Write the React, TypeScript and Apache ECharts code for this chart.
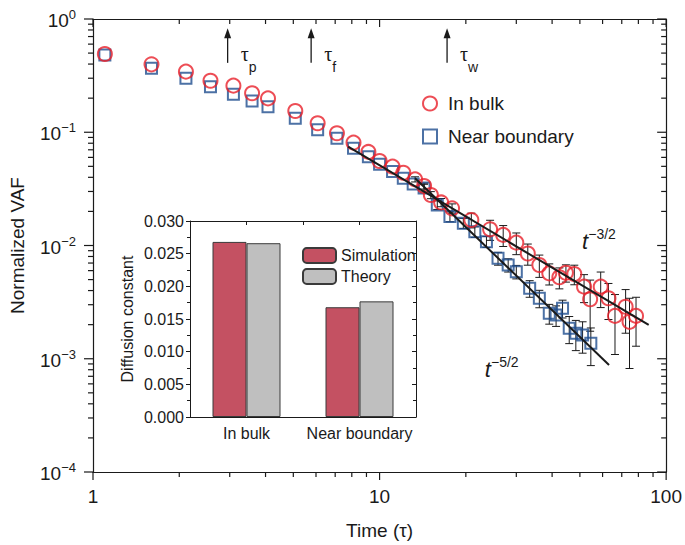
import React, { useEffect, useRef } from "react";
import * as echarts from "echarts";

// ---------- main plot data ----------
const bulkT = [1.1, 1.6, 2.11, 2.57, 3.09, 3.59, 4.08, 5.08, 6.08, 7.1, 8.11, 9.14, 10.0, 11.1, 12.1, 13.3, 14.3, 15.1, 16.4, 17.9, 20.9, 24.3, 27.0, 30.0, 32.9, 36.1, 39.1, 42.4, 44.7, 47.8, 51.7, 54.3, 59.1, 62.9, 66.3, 72.2, 74.5, 78.5];
const bulkV = [0.491, 0.398, 0.343, 0.285, 0.258, 0.221, 0.199, 0.154, 0.12, 0.098, 0.081, 0.067, 0.0557, 0.0497, 0.0439, 0.0384, 0.0335, 0.0279, 0.024, 0.0213, 0.0168, 0.0139, 0.0124, 0.0106, 0.0085, 0.00673, 0.00568, 0.00524, 0.00575, 0.0056, 0.00433, 0.00335, 0.00433, 0.00342, 0.00239, 0.00288, 0.00212, 0.00239];
const bulkErr = [0, 0, 0, 0, 0, 0, 0, 0, 0, 0, 0, 0, 0, 0, 0, 0.002, 0.002, 0.002, 0.002, 0.002, 0.0025, 0.0028, 0.0026, 0.0023, 0.0018, 0.0015, 0.0012, 0.0011, 0.001, 0.0011, 0.0012, 0.0016, 0.0015, 0.0012, 0.0013, 0.0012, 0.0013, 0.0011];

const edgeT = [1.1, 1.6, 2.11, 2.57, 3.09, 3.59, 4.08, 5.08, 6.08, 7.1, 8.11, 9.14, 10.0, 11.1, 12.1, 13.1, 14.3, 15.9, 17.6, 19.6, 21.5, 23.6, 25.9, 28.1, 30.0, 33.4, 36.1, 39.1, 41.3, 43.5, 45.9, 48.4, 51.1, 54.6];
const edgeV = [0.48, 0.367, 0.3, 0.252, 0.216, 0.189, 0.168, 0.133, 0.105, 0.0885, 0.0721, 0.0608, 0.0521, 0.045, 0.0392, 0.035, 0.0322, 0.0228, 0.018, 0.0157, 0.0132, 0.0108, 0.0077, 0.00673, 0.00587, 0.00419, 0.00342, 0.00252, 0.00243, 0.00279, 0.00186, 0.00168, 0.00162, 0.00137];
const edgeErr = [0, 0, 0, 0, 0, 0, 0, 0, 0, 0, 0, 0, 0, 0, 0, 0, 0.0025, 0.002, 0.0018, 0.0016, 0.0014, 0.0012, 0.001, 0.0009, 0.0008, 0.0007, 0.0006, 0.0005, 0.0005, 0.0005, 0.0005, 0.0005, 0.0005, 0.0005];

// fitted power-law lines (end points)
const fitBulk = [[7.77, 0.0745], [86.9, 0.00199]];
const fitEdge = [[13.3, 0.0393], [63.2, 0.00088]];
const fitLabels = ["−3/2", "−5/2"];
const fitLabelAt = [[50.9, 0.0112], [23.3, 0.00083]];

// characteristic times
const tauT = [2.95, 5.77, 17.2];
const tauSub = ["p", "f", "w"];
const tauArrowFrom = 0.41;
const tauArrowTo = 0.83;

// axis ticks
const xMajor = [1, 10, 100];
const yMajor = [1e-4, 1e-3, 1e-2, 1e-1, 1];
const mantissas = [2, 3, 4, 5, 6, 7, 8, 9];

// ---------- inset data ----------
const insetCategories = ["In bulk", "Near boundary"];
const simValues = [0.0268, 0.0168];
const theoryValues = [0.0266, 0.0177];

const RED = "#e8212a";
const BLUE = "#1f4e8e";
const INK = "#1a1a1a";
const FONT = "'Liberation Sans', Arial, Helvetica, sans-serif";

function minorTicks(lo: number, hi: number): number[] {
  const out: number[] = [];
  for (let e = Math.round(Math.log10(lo)); e < Math.round(Math.log10(hi)); e++) {
    mantissas.forEach((m) => out.push(m * Math.pow(10, e)));
  }
  return out;
}

const supFmt = (v: number) => {
  const e = Math.round(Math.log10(v));
  return `{b|10}{s|${e < 0 ? "−" + Math.abs(e) : e}}`;
};

export default function App() {
  const ref = useRef<HTMLDivElement>(null);
  useEffect(() => {
    if (!ref.current) return;
    const chart = echarts.init(ref.current, null, { renderer: "svg" });

    const xMinor = minorTicks(1, 100);
    const yMinor = minorTicks(1e-4, 1);

    const errData = (ts: number[], vs: number[], es: number[]) =>
      ts
        .map((t, i) => [t, vs[i] - es[i], vs[i] + es[i]])
        .filter((_, i) => es[i] > 0);

    const errRender = (params: any, api: any) => {
      const x = api.value(0);
      const p1 = api.coord([x, api.value(2)]);
      const p2 = api.coord([x, api.value(1)]);
      const w = 4;
      const st = { stroke: INK, lineWidth: 1 };
      return {
        type: "group",
        children: [
          { type: "line", shape: { x1: p1[0], y1: p1[1], x2: p2[0], y2: p2[1] }, style: st },
          { type: "line", shape: { x1: p1[0] - w, y1: p1[1], x2: p1[0] + w, y2: p1[1] }, style: st },
          { type: "line", shape: { x1: p2[0] - w, y1: p2[1], x2: p2[0] + w, y2: p2[1] }, style: st },
        ],
      };
    };

    const tickRender = (params: any, api: any) => {
      const cs = params.coordSys;
      const left = cs.x, top = cs.y, right = cs.x + cs.width, bottom = cs.y + cs.height;
      const st = { stroke: INK, lineWidth: 1.2 };
      const ch: any[] = [];
      const L = (x1: number, y1: number, x2: number, y2: number) =>
        ch.push({ type: "line", shape: { x1, y1, x2, y2 }, style: st });
      const xs = (vals: number[], len: number) =>
        vals.forEach((v) => {
          const px = api.coord([v, 0.01])[0];
          L(px, bottom, px, bottom + len);
          L(px, top, px, top + len);
        });
      const ys = (vals: number[], len: number) =>
        vals.forEach((v) => {
          const py = api.coord([10, v])[1];
          L(left, py, left - len, py);
          L(right, py, right - len, py);
        });
      xs(xMajor, 8);
      xs(xMinor, 5);
      ys(yMajor, 9);
      ys(yMinor, 5);
      return { type: "group", children: ch };
    };

    const tauRender = (params: any, api: any) => {
      const t = api.value(0);
      const i = params.dataIndex;
      const pB = api.coord([t, tauArrowFrom]);
      const pT = api.coord([t, tauArrowTo]);
      return {
        type: "group",
        children: [
          { type: "line", shape: { x1: pB[0], y1: pB[1], x2: pT[0], y2: pT[1] + 8 }, style: { stroke: INK, lineWidth: 1.3 } },
          { type: "polygon", shape: { points: [[pT[0], pT[1]], [pT[0] - 3.5, pT[1] + 10], [pT[0] + 3.5, pT[1] + 10]] }, style: { fill: INK } },
          {
            type: "text",
            x: pB[0] + 13,
            y: pB[1] - 4,
            style: {
              text: `{t|τ}{s|${tauSub[i]}}`,
              align: "left",
              verticalAlign: "middle",
              rich: {
                t: { fontSize: 20, fontFamily: "'Liberation Serif', serif", fill: INK, lineHeight: 22, verticalAlign: "top" },
                s: { fontSize: 14, fontFamily: FONT, fill: INK, lineHeight: 30, verticalAlign: "bottom" },
              },
            },
          },
        ],
      };
    };

    const fitLabelRender = (params: any, api: any) => {
      const p = api.coord([api.value(0), api.value(1)]);
      const i = params.dataIndex;
      return {
        type: "text",
        x: p[0],
        y: p[1],
        style: {
          text: `{t|t}{s|${fitLabels[i]}}`,
          align: "left",
          verticalAlign: "middle",
          rich: {
            t: { fontSize: 22, fontStyle: "italic", fontFamily: FONT, fill: INK, lineHeight: 26, verticalAlign: "bottom" },
            s: { fontSize: 14, fontFamily: FONT, fill: INK, lineHeight: 26, verticalAlign: "top" },
          },
        },
      };
    };

    const logLabel = {
      formatter: supFmt,
      color: INK,
      rich: {
        b: { fontSize: 19, fontFamily: FONT, color: INK, lineHeight: 22, verticalAlign: "bottom" },
        s: { fontSize: 13, fontFamily: FONT, color: INK, lineHeight: 22, verticalAlign: "top" },
      },
    };

    const option: any = {
      animation: false,
      textStyle: { fontFamily: FONT, color: INK },
      grid: [
        { left: 90, top: 19, right: 17, bottom: 73 },
        { left: 190, top: 221, width: 226, height: 196, show: true, backgroundColor: "#fff", borderWidth: 0, z: 10 },
      ],
      legend: [
        {
          orient: "vertical",
          left: 417,
          top: 89,
          itemWidth: 14,
          itemHeight: 14,
          itemGap: 14,
          textStyle: { fontSize: 19, color: INK, padding: [0, 0, 0, 6] },
          data: [
            { name: "In bulk", icon: "circle" },
            { name: "Near boundary", icon: "rect" },
          ],
        },
        {
          orient: "vertical",
          left: 297,
          top: 242,
          itemWidth: 33,
          itemHeight: 15,
          itemGap: 4,
          z: 20,
          textStyle: { fontSize: 16, color: INK },
          data: ["Simulation", "Theory"],
        },
      ],
      xAxis: [
        {
          type: "log",
          logBase: 10,
          min: 1,
          max: 100,
          gridIndex: 0,
          position: "bottom",
          axisLine: { show: true, onZero: false, lineStyle: { color: INK, width: 1.2 } },
          axisTick: { show: false },
          splitLine: { show: false },
          axisLabel: { fontSize: 19, color: INK, margin: 15 },
          name: "Time (τ)",
          nameLocation: "middle",
          nameGap: 49,
          nameTextStyle: { fontSize: 19, color: INK },
        },
        {
          type: "log",
          logBase: 10,
          min: 1,
          max: 100,
          gridIndex: 0,
          position: "top",
          axisLine: { show: true, onZero: false, lineStyle: { color: INK, width: 1.2 } },
          axisTick: { show: false },
          splitLine: { show: false },
          axisLabel: { show: false },
        },
        {
          type: "category",
          gridIndex: 1,
          data: insetCategories,
          position: "bottom",
          axisLine: { show: true, lineStyle: { color: INK, width: 1 } },
          axisTick: { show: false },
          axisLabel: { fontSize: 16, color: INK, margin: 8, interval: 0 },
          z: 10,
        },
        {
          type: "value",
          gridIndex: 1,
          min: 0,
          max: 2,
          interval: 0.5,
          position: "top",
          axisLine: { show: true, onZero: false, lineStyle: { color: INK, width: 1 } },
          axisTick: { show: true, inside: true, length: 4, lineStyle: { color: INK } },
          axisLabel: { show: false },
          splitLine: { show: false },
          z: 10,
        },
      ],
      yAxis: [
        {
          type: "log",
          logBase: 10,
          min: 1e-4,
          max: 1,
          gridIndex: 0,
          position: "left",
          axisLine: { show: true, onZero: false, lineStyle: { color: INK, width: 1.2 } },
          axisTick: { show: false },
          splitLine: { show: false },
          axisLabel: { ...logLabel, margin: 17 },
          name: "Normalized VAF",
          nameLocation: "middle",
          nameGap: 66,
          nameTextStyle: { fontSize: 19, color: INK },
        },
        {
          type: "log",
          logBase: 10,
          min: 1e-4,
          max: 1,
          gridIndex: 0,
          position: "right",
          axisLine: { show: true, onZero: false, lineStyle: { color: INK, width: 1.2 } },
          axisTick: { show: false },
          splitLine: { show: false },
          axisLabel: { show: false },
        },
        {
          type: "value",
          gridIndex: 1,
          min: 0,
          max: 0.03,
          interval: 0.005,
          position: "left",
          axisLine: { show: true, lineStyle: { color: INK, width: 1 } },
          axisTick: { show: true, length: 4, lineStyle: { color: INK } },
          minorTick: { show: true, splitNumber: 2, length: 3, lineStyle: { color: INK } },
          splitLine: { show: false },
          axisLabel: { fontSize: 16, color: INK, margin: 6, formatter: (v: number) => v.toFixed(3) },
          name: "Diffusion constant",
          nameLocation: "middle",
          nameGap: 55,
          nameTextStyle: { fontSize: 16, color: INK },
          z: 10,
        },
        {
          type: "value",
          gridIndex: 1,
          min: 0,
          max: 0.03,
          interval: 0.005,
          position: "right",
          axisLine: { show: true, lineStyle: { color: INK, width: 1 } },
          axisTick: { show: true, inside: true, length: 4, lineStyle: { color: INK } },
          minorTick: { show: true, splitNumber: 2, length: 3, lineStyle: { color: INK } },
          splitLine: { show: false },
          axisLabel: { show: false },
          z: 10,
        },
      ],
      series: [
        {
          name: "ticks",
          type: "custom",
          xAxisIndex: 0,
          yAxisIndex: 0,
          clip: false,
          silent: true,
          renderItem: tickRender,
          data: [[10, 0.01]],
          z: 1,
        },
        {
          name: "edgeErr",
          type: "custom",
          xAxisIndex: 0,
          yAxisIndex: 0,
          renderItem: errRender,
          encode: { x: 0, y: [1, 2] },
          data: errData(edgeT, edgeV, edgeErr),
          z: 2,
        },
        {
          name: "bulkErr",
          type: "custom",
          xAxisIndex: 0,
          yAxisIndex: 0,
          renderItem: errRender,
          encode: { x: 0, y: [1, 2] },
          data: errData(bulkT, bulkV, bulkErr),
          z: 2,
        },
        {
          name: "Near boundary",
          type: "scatter",
          xAxisIndex: 0,
          yAxisIndex: 0,
          symbol: "rect",
          symbolSize: 11,
          itemStyle: { color: "rgba(255,255,255,0)", borderColor: BLUE, borderWidth: 2 },
          data: edgeT.map((t, i) => [t, edgeV[i]]),
          z: 3,
        },
        {
          name: "In bulk",
          type: "scatter",
          xAxisIndex: 0,
          yAxisIndex: 0,
          symbol: "circle",
          symbolSize: 14,
          itemStyle: { color: "rgba(255,255,255,0)", borderColor: RED, borderWidth: 2 },
          data: bulkT.map((t, i) => [t, bulkV[i]]),
          z: 3,
        },
        {
          name: "fitBulk",
          type: "line",
          xAxisIndex: 0,
          yAxisIndex: 0,
          showSymbol: false,
          lineStyle: { color: INK, width: 2 },
          data: fitBulk,
          z: 4,
        },
        {
          name: "fitEdge",
          type: "line",
          xAxisIndex: 0,
          yAxisIndex: 0,
          showSymbol: false,
          lineStyle: { color: INK, width: 2 },
          data: fitEdge,
          z: 4,
        },
        {
          name: "tau",
          type: "custom",
          xAxisIndex: 0,
          yAxisIndex: 0,
          clip: false,
          renderItem: tauRender,
          data: tauT.map((t) => [t, tauArrowFrom]),
          z: 5,
        },
        {
          name: "fitLabels",
          type: "custom",
          xAxisIndex: 0,
          yAxisIndex: 0,
          clip: false,
          renderItem: fitLabelRender,
          data: fitLabelAt,
          z: 5,
        },
        {
          name: "Simulation",
          type: "bar",
          xAxisIndex: 2,
          yAxisIndex: 2,
          barWidth: 34,
          barGap: "0%",
          itemStyle: { color: "#c45162", borderColor: "#3a3a3a", borderWidth: 1 },
          data: simValues,
          z: 12,
        },
        {
          name: "Theory",
          type: "bar",
          xAxisIndex: 2,
          yAxisIndex: 2,
          barWidth: 34,
          barGap: "0%",
          itemStyle: { color: "#bfbfbf", borderColor: "#3a3a3a", borderWidth: 1 },
          data: theoryValues,
          z: 12,
        },
      ],
    };

    chart.setOption(option);
    return () => chart.dispose();
  }, []);

  return <div ref={ref} style={{ width: 685, height: 545, position: "absolute", left: 0, top: 0 }} />;
}
